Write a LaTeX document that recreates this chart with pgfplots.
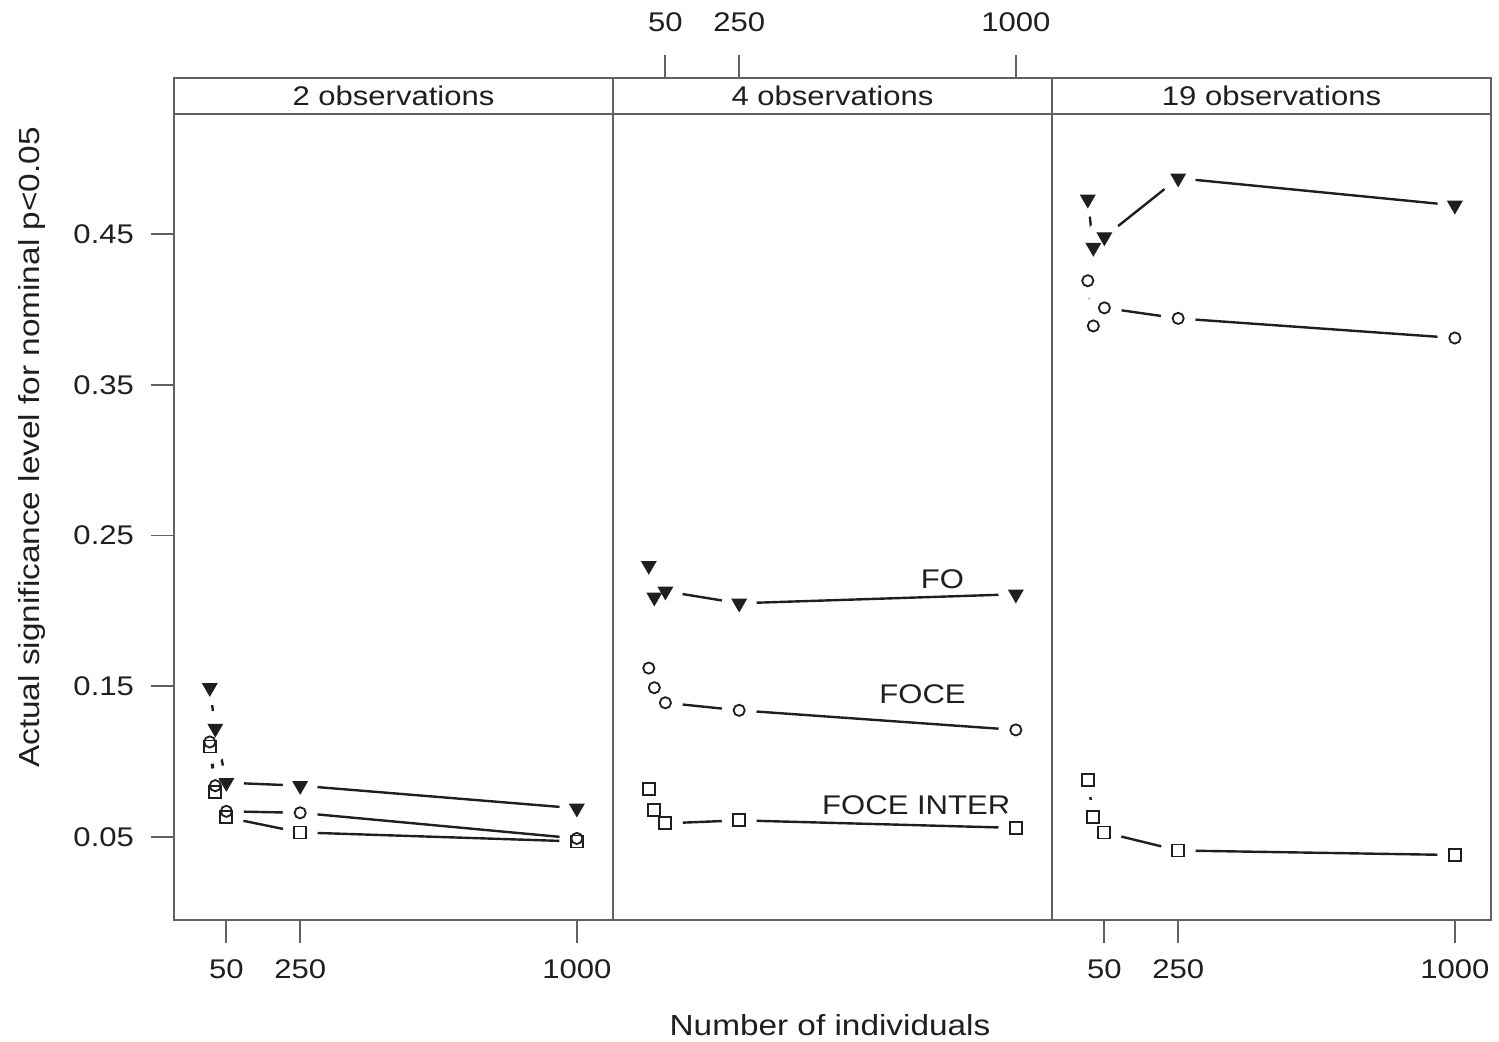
\documentclass[border=0pt]{standalone}
\usepackage{fontspec}
\setmainfont{Liberation Sans}[FakeStretch=1.15]
\usepackage{pgfplots}
\usepackage{pgfplotstable}
\pgfplotsset{compat=1.18}

\definecolor{frame}{gray}{0.38}
\definecolor{ink}{gray}{0.12}

\pgfplotstableread{
N FO FOCE INTER
5 0.149 0.113 0.110
20 0.122 0.084 0.080
50 0.086 0.067 0.063
250 0.084 0.066 0.053
1000 0.069 0.049 0.047
}\obsTwo
\pgfplotstableread{
N FO FOCE INTER
5 0.230 0.162 0.082
20 0.209 0.149 0.068
50 0.213 0.139 0.059
250 0.205 0.134 0.061
1000 0.211 0.121 0.056
}\obsFour
\pgfplotstableread{
N FO FOCE INTER
5 0.473 0.419 0.088
20 0.441 0.389 0.063
50 0.448 0.401 0.053
250 0.487 0.394 0.041
1000 0.469 0.381 0.038
}\obsNineteen

\pgfplotsset{
  panel/.style={
    scale only axis, width=219.5pt, height=421pt,
    xmin=-92, xmax=1098, ymin=-0.0051, ymax=0.5535,
    axis line style={frame, line width=1.2pt},
    tick style={frame, line width=0.9pt},
    major tick length=11.5pt,
    tick align=outside,
    xtick={50,250,1000}, xticklabels={50,250,1000},
    ytick=\empty,
    ticklabel style={font=\fontsize{13.5}{14}\selectfont, text=ink},
  },
  ln/.style={ink, line width=1.2pt, no marks},
  halo/.style={only marks, mark=*, mark size=8.5pt, mark options={draw=white, fill=white}},
  mFO/.style={only marks, mark=triangle*, mark size=4pt, mark options={rotate=180, fill=ink, draw=ink, line width=0.6pt}},
  mFOCE/.style={only marks, mark=o, mark size=2.8pt, mark options={draw=ink, line width=0.9pt}},
  mINTER/.style={only marks, mark=square, mark size=3pt, mark options={draw=ink, line width=0.9pt}},
}

\newcommand{\series}[1]{%
  \addplot[ln] table[x=N, y=FO] {#1};
  \addplot[ln] table[x=N, y=FOCE] {#1};
  \addplot[ln] table[x=N, y=INTER] {#1};
  \addplot[halo] table[x=N, y=FO] {#1};
  \addplot[halo] table[x=N, y=FOCE] {#1};
  \addplot[halo] table[x=N, y=INTER] {#1};
  \addplot[mINTER] table[x=N, y=INTER] {#1};
  \addplot[mFOCE] table[x=N, y=FOCE] {#1};
  \addplot[mFO] table[x=N, y=FO] {#1};
}
\newcommand{\strip}[1]{%
  \draw[frame, line width=1.2pt] (axis cs:-92,0.5296) -- (axis cs:1098,0.5296);
  \node[font=\fontsize{13.5}{15}\selectfont, text=ink] at (axis cs:503,0.5416) {#1};
}

\begin{document}
\begin{tikzpicture}
\useasboundingbox (0,0) rectangle (749.5pt,521pt);

\begin{axis}[panel, at={(87pt,61pt)}, anchor=south west,
  xtick pos=left, ytick pos=left,
  ytick={0.05,0.15,0.25,0.35,0.45}, yticklabels={0.05,0.15,0.25,0.35,0.45},
  xticklabel style={yshift=-5pt}, yticklabel style={xshift=-5pt}]
  \series{\obsTwo}
  \strip{2 observations}
\end{axis}

\begin{axis}[panel, at={(306.5pt,61pt)}, anchor=south west,
  xtick pos=right, xticklabel pos=right,
  xticklabel style={yshift=8pt}]
  \series{\obsFour}
  \strip{4 observations}
  \node[font=\fontsize{13.5}{14}\selectfont, text=ink] at (axis cs:801,0.221) {FO};
  \node[font=\fontsize{13.5}{14}\selectfont, text=ink] at (axis cs:747,0.145) {FOCE};
  \node[font=\fontsize{13.5}{14}\selectfont, text=ink] at (axis cs:730,0.071) {FOCE INTER};
\end{axis}

\begin{axis}[panel, at={(526pt,61pt)}, anchor=south west,
  xtick pos=left, xticklabel style={yshift=-5pt}]
  \series{\obsNineteen}
  \strip{19 observations}
\end{axis}

\node[font=\fontsize{14.5}{15}\selectfont, text=ink] at (415pt,8.5pt) {Number of individuals};
\node[font=\fontsize{14.5}{15}\selectfont, text=ink, rotate=90] at (16pt,297.25pt) {Actual significance level for nominal p<0.05};
\end{tikzpicture}
\end{document}
